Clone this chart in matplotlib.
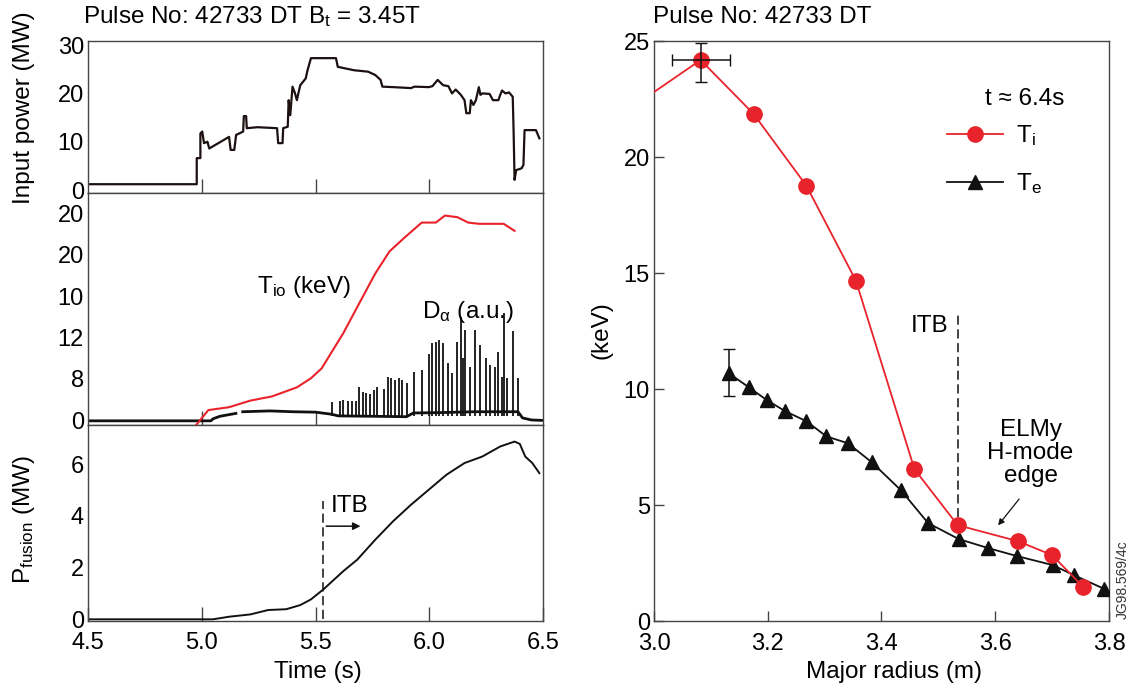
import matplotlib
matplotlib.use("Agg")
import matplotlib.pyplot as plt
import numpy as np

plt.rcParams['font.family'] = ['Liberation Sans', 'DejaVu Sans']
plt.rcParams['mathtext.fontset'] = 'custom'
plt.rcParams['mathtext.rm'] = 'Liberation Sans'
plt.rcParams['mathtext.it'] = 'Liberation Sans:italic'
plt.rcParams['mathtext.default'] = 'regular'

# ---- time traces, pulse 42733 ----
# input power (MW)
pin_t = [4.5, 4.978, 4.978, 4.994, 4.994, 5.002, 5.01, 5.025, 5.033, 5.12, 5.127, 5.143,
         5.151, 5.182, 5.185, 5.195, 5.198, 5.245, 5.331, 5.336, 5.355, 5.358, 5.378,
         5.382, 5.389, 5.399, 5.41, 5.418, 5.433, 5.457, 5.465, 5.48, 5.59, 5.598, 5.669,
         5.731, 5.763, 5.786, 5.794, 5.841, 5.92, 5.935, 5.998, 6.014, 6.037, 6.061, 6.084,
         6.1, 6.116, 6.139, 6.155, 6.163, 6.178, 6.183, 6.194, 6.205, 6.218, 6.225, 6.233,
         6.265, 6.28, 6.304, 6.312, 6.32, 6.335, 6.351, 6.367, 6.371, 6.375, 6.382, 6.406,
         6.414, 6.419, 6.469, 6.484]
pin_mw = [1.2, 1.2, 6.6, 6.6, 11.7, 12.1, 9.7, 10.0, 8.6, 11.0, 8.3, 8.3,
          11.4, 12.1, 15.3, 15.3, 12.8, 13.0, 12.8, 9.7, 9.7, 12.8, 13.1,
          18.6, 15.5, 21.4, 20.0, 18.6, 21.7, 23.1, 24.8, 27.3, 27.3, 25.5, 24.8,
          24.5, 23.8, 22.8, 21.4, 21.3, 21.1, 21.4, 21.3, 21.5, 22.8, 21.7, 21.5,
          20.0, 20.8, 19.7, 18.6, 15.9, 15.9, 18.6, 17.6, 18.6, 21.3, 19.7, 20.0,
          19.9, 18.6, 18.6, 19.7, 20.6, 20.0, 20.2, 19.3, 11.7, 2.1, 4.1, 4.5,
          5.2, 12.4, 12.4, 10.7]

# central ion temperature, on the middle panel's printed tick scale
tio_t = [4.971, 5.029, 5.12, 5.214, 5.308, 5.418, 5.48, 5.527, 5.622, 5.684, 5.763,
         5.825, 5.888, 5.967, 6.029, 6.069, 6.124, 6.171, 6.218, 6.327, 6.375]
tio_v = [-0.15, 0.24, 0.31, 0.47, 0.57, 0.79, 1.01, 1.25, 2.10, 2.74, 3.55,
         4.08, 4.40, 4.78, 4.78, 4.95, 4.91, 4.78, 4.75, 4.75, 4.58]

# D-alpha background trace and ELM spikes
da_t = [4.5, 5.04, 5.05, 5.08, 5.12, 5.15, 5.16, 5.18, 5.3, 5.4, 5.5, 5.57, 5.6, 5.75,
        5.9, 5.93, 6.05, 6.2, 6.39, 6.41, 6.45, 6.5]
da_v = [-0.02, -0.02, 0.03, 0.09, 0.13, 0.16, np.nan, 0.2, 0.22, 0.2, 0.19, 0.14, 0.1,
        0.09, 0.08, 0.17, 0.18, 0.2, 0.2, 0.05, 0.0, -0.01]
elm_t = [5.574, 5.606, 5.622, 5.645, 5.661, 5.676, 5.692, 5.708, 5.724, 5.739, 5.755,
         5.771, 5.802, 5.818, 5.833, 5.849, 5.865, 5.88, 5.904, 5.932, 5.967, 5.998,
         6.014, 6.029, 6.045, 6.061, 6.084, 6.1, 6.124, 6.139, 6.149, 6.158, 6.178,
         6.202, 6.225, 6.249, 6.265, 6.288, 6.304, 6.32, 6.327, 6.343, 6.367, 6.39]
elm_h = [0.44, 0.47, 0.49, 0.47, 0.47, 0.47, 0.81, 0.69, 0.65, 0.63, 0.73,
         0.81, 0.75, 1.03, 1.01, 0.98, 1.01, 0.98, 0.90, 1.17, 1.21, 1.61,
         1.86, 1.90, 1.94, 1.86, 1.37, 1.15, 1.90, 2.50, 1.49, 2.19, 1.29,
         2.19, 1.82, 1.49, 1.33, 1.29, 1.65, 1.05, 2.60, 1.01, 2.15, 1.01]
mid_tick_labels = ['0', '8', '12', '10', '20', '20']

# fusion power (MW)
pfus_t = [4.5, 5.049, 5.12, 5.214, 5.292, 5.371, 5.433, 5.48, 5.535, 5.622, 5.684,
          5.763, 5.841, 5.92, 5.998, 6.076, 6.155, 6.233, 6.312, 6.375, 6.398, 6.422,
          6.453, 6.484]
pfus_mw = [0, 0, 0.10, 0.19, 0.36, 0.39, 0.55, 0.77, 1.16, 1.86, 2.31,
           3.08, 3.79, 4.43, 5.01, 5.59, 6.04, 6.29, 6.68, 6.87, 6.78, 6.29,
           6.04, 5.65]
itb_time = 5.535

# ---- profiles at t ~ 6.4 s ----
ti_r = [3.0, 3.082, 3.175, 3.268, 3.355, 3.458, 3.534, 3.64, 3.70, 3.755]
ti_kev = [22.8, 24.18, 21.86, 18.76, 14.67, 6.54, 4.13, 3.44, 2.84, 1.46]
te_r = [3.132, 3.167, 3.199, 3.231, 3.268, 3.303, 3.341, 3.383, 3.434, 3.482,
        3.536, 3.588, 3.638, 3.701, 3.738, 3.792]
te_kev = [10.67, 10.07, 9.51, 9.04, 8.61, 7.96, 7.66, 6.84, 5.64, 4.22,
          3.53, 3.14, 2.80, 2.41, 1.98, 1.38]
itb_radius = 3.535

RED = '#e8232b'
SPINE = '#444444'
FS = 17.5
TFS = 17

fig = plt.figure(figsize=(11.33, 6.89), dpi=100)
W, H = 1133, 689


def box(x0, y0, x1, y1):
    return [x0 / W, 1 - y1 / H, (x1 - x0) / W, (y1 - y0) / H]


ax1 = fig.add_axes(box(88, 41, 543, 193))
ax2 = fig.add_axes(box(88, 193, 543, 425))
ax3 = fig.add_axes(box(88, 425, 543, 621))
axr = fig.add_axes(box(654, 41, 1109, 621))

for ax in (ax1, ax2, ax3, axr):
    for s in ax.spines.values():
        s.set_color(SPINE)
        s.set_linewidth(1.0)

# top panel: input power
ax1.plot(pin_t, pin_mw, color='#1c1010', lw=1.6)
ax1.set_ylim(-0.62, 30.85)
ax1.set_yticks([0, 10, 20, 30])

# middle panel: Tio and D-alpha
ax2.plot(da_t, da_v, color='#111111', lw=2.0)
ax2.vlines(elm_t, 0.1, elm_h, color='#111111', lw=1.3)
ax2.plot(tio_t, tio_v, color=RED, lw=1.5, zorder=5)
ax2.set_ylim(-0.121, 5.496)
ax2.set_yticks(range(6))
ax2.set_yticklabels(mid_tick_labels)
ax2.text(5.245, 3.23, 'T$_{io}$ (keV)', fontsize=FS, va='center', ha='left')
ax2.text(5.967, 2.62, 'D$_{\\alpha}$ (a.u.)', fontsize=FS, va='center', ha='left')

# bottom panel: fusion power
ax3.plot(pfus_t, pfus_mw, color='#111111', lw=1.4)
ax3.plot([itb_time, itb_time], [0, 4.56], color='#111111', lw=1.1, dashes=(6, 3))
ax3.text(itb_time + 0.03, 4.37, 'ITB', fontsize=FS, va='center', ha='left')
ax3.annotate('', xy=(itb_time + 0.175, 3.6), xytext=(itb_time, 3.6),
             arrowprops=dict(arrowstyle='-|>', color='#111111', lw=1.1, mutation_scale=11))
ax3.set_ylim(-0.065, 7.51)
ax3.set_yticks([0, 2, 4, 6])

for ax in (ax1, ax2, ax3):
    ax.set_xlim(4.5, 6.5)
    ax.tick_params(axis='x', direction='in', length=10, width=1, color=SPINE, labelbottom=False)
    ax.tick_params(axis='y', length=0, pad=3, labelsize=TFS)
ax1.set_xticks([5.0, 5.5, 6.0])
ax2.set_xticks([5.0, 5.5, 6.0])
ax3.set_xticks([4.5, 5.0, 5.5, 6.0, 6.5])
ax3.set_xticklabels(['4.5', '5.0', '5.5', '6.0', '6.5'])
ax3.tick_params(axis='x', labelbottom=True, labelsize=TFS, pad=8)

fig.text(24 / W, 1 - 108 / H, 'Input power (MW)', rotation=90, fontsize=FS,
         ha='center', va='center')
fig.text(24 / W, 1 - 520 / H, 'P$_{fusion}$ (MW)', rotation=90, fontsize=FS,
         ha='center', va='center')
fig.text(318 / W, 1 - 672 / H, 'Time (s)', fontsize=FS, ha='center', va='center')
fig.text(83 / W, 1 - 17 / H, 'Pulse No: 42733 DT B$_t$ = 3.45T', fontsize=FS,
         ha='left', va='center')

# right panel: temperature profiles
axr.plot(ti_r, ti_kev, color=RED, lw=1.3, marker='o', markersize=11,
         markevery=list(range(1, len(ti_r))), markerfacecolor=RED,
         markeredgecolor=RED, label='T$_i$', zorder=4)
axr.plot(te_r, te_kev, color='#111111', lw=1.3, marker='^', markersize=10,
         markerfacecolor='#111111', markeredgecolor='#111111', label='T$_e$', zorder=3)
axr.errorbar(ti_r[1], ti_kev[1], xerr=[[0.05], [0.051]], yerr=[[0.93], [0.75]],
             fmt='none', ecolor='#111111', elinewidth=1.1, capsize=4, zorder=5)
axr.errorbar(te_r[0], te_kev[0], yerr=[[0.97], [1.06]], fmt='none',
             ecolor='#111111', elinewidth=1.1, capsize=4, zorder=5)
axr.plot([itb_radius, itb_radius], [3.9, 13.2], color='#111111', lw=1.1, dashes=(6, 3))
axr.text(itb_radius - 0.017, 12.73, 'ITB', fontsize=FS, ha='right', va='center')
axr.text(3.662, 7.25, 'ELMy\nH-mode\nedge', fontsize=FS, ha='center', va='center',
         linespacing=1.05)
axr.annotate('', xy=(3.602, 4.03), xytext=(3.645, 5.35),
             arrowprops=dict(arrowstyle='-|>', color='#111111', lw=0.9, mutation_scale=9))
axr.text(3.652, 22.49, 't ≈ 6.4s', fontsize=FS, ha='center', va='center')
leg = axr.legend(loc='upper left', bbox_to_anchor=(0.644, 0.858), frameon=False,
                 fontsize=FS, handlelength=2.3, handletextpad=0.55, labelspacing=0.95,
                 borderpad=0, borderaxespad=0)

axr.set_xlim(3.0, 3.8)
axr.set_ylim(0, 25)
axr.set_xticks([3.0, 3.2, 3.4, 3.6, 3.8])
axr.set_xticklabels(['3.0', '3.2', '3.4', '3.6', '3.8'])
axr.set_yticks([0, 5, 10, 15, 20, 25])
axr.tick_params(direction='in', length=7, width=1, color=SPINE, labelsize=TFS)
axr.tick_params(axis='x', pad=9)
axr.tick_params(axis='y', pad=3)

fig.text(601 / W, 1 - 330 / H, '(keV)', rotation=90, fontsize=FS, ha='center', va='center')
fig.text(894 / W, 1 - 672 / H, 'Major radius (m)', fontsize=FS, ha='center', va='center')
fig.text(653 / W, 1 - 17 / H, 'Pulse No: 42733 DT', fontsize=FS, ha='left', va='center')
fig.text(1123 / W, 1 - 580 / H, 'JG98.569/4c', rotation=90, fontsize=10,
         ha='center', va='center', color='#333333')

fig.savefig('out.png', dpi=100)
